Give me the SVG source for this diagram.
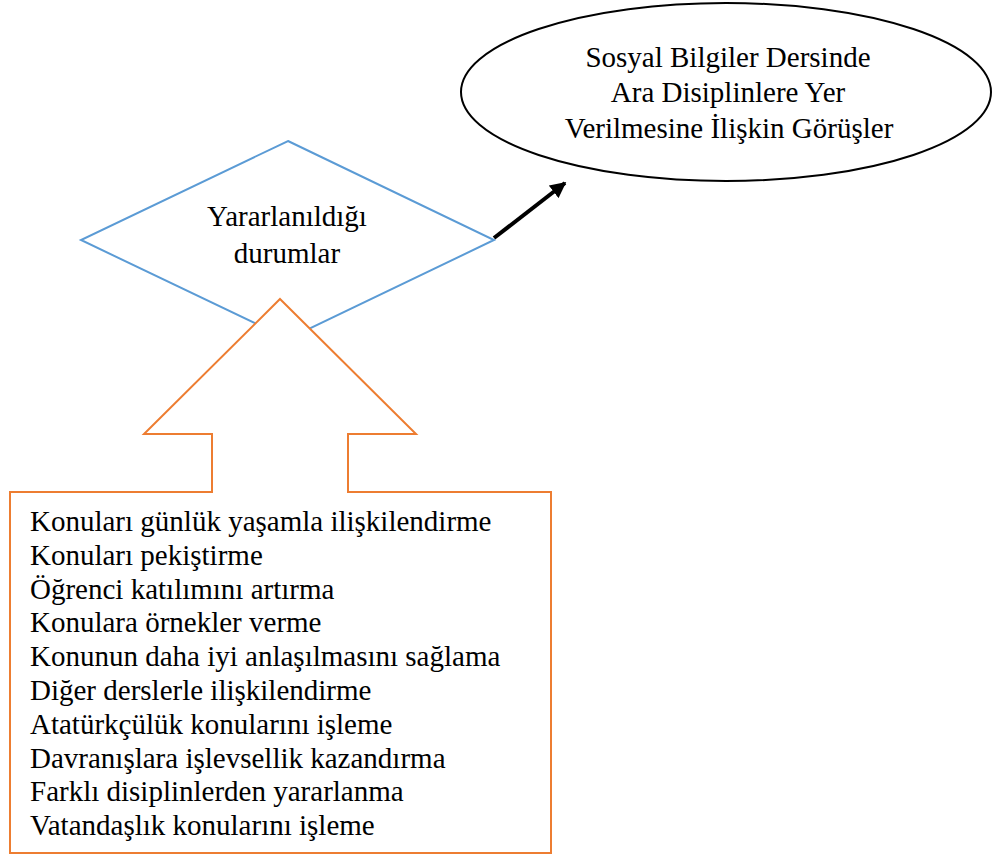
<svg xmlns="http://www.w3.org/2000/svg" width="992" height="856" viewBox="0 0 992 856">
<style>
text{font-family:"Liberation Serif","Times New Roman",serif;font-size:29px;fill:#000}
.c{text-anchor:middle}
.blue{fill:#fff;stroke:#5B9BD5;stroke-width:2}
.orange{fill:#fff;stroke:#ED7D31;stroke-width:2}
.ell{fill:#fff;stroke:#000;stroke-width:2}
.conn{stroke:#000;stroke-width:4;fill:none}
</style>
<defs>
<marker id="ah" viewBox="0 0 10 10" refX="9" refY="5" markerWidth="4" markerHeight="4" orient="auto" markerUnits="strokeWidth">
<path d="M0,0 L10,5 L0,10 Z" fill="#000"/>
</marker>
</defs>
<rect width="992" height="856" fill="#fff"/>
<g id="ellipse">
<ellipse class="ell" cx="726" cy="92" rx="265" ry="89"/>
<text class="c" x="728" y="67">Sosyal Bilgiler Dersinde</text>
<text class="c" x="728" y="102">Ara Disiplinlere Yer</text>
<text class="c" x="729" y="138">Verilmesine İlişkin Görüşler</text>
</g>
<g id="connectors">
<line class="conn" x1="494" y1="238" x2="565" y2="183" marker-end="url(#ah)"/>
</g>
<g id="diamond">
<polygon class="blue" points="288,141 494,240 288,339 81,240"/>
<text class="c" x="287" y="226">Yararlanıldığı</text>
<text class="c" x="287" y="263">durumlar</text>
</g>
<g id="list">
<path class="orange" d="M280,299 L416,434 L348,434 L348,492 L551,492 L551,853 L10,853 L10,492 L212,492 L212,434 L144,434 Z"/>
<text x="30" y="531">Konuları günlük yaşamla ilişkilendirme</text>
<text x="30" y="565">Konuları pekiştirme</text>
<text x="30" y="599">Öğrenci katılımını artırma</text>
<text x="30" y="632">Konulara örnekler verme</text>
<text x="30" y="666">Konunun daha iyi anlaşılmasını sağlama</text>
<text x="30" y="700">Diğer derslerle ilişkilendirme</text>
<text x="30" y="734">Atatürkçülük konularını işleme</text>
<text x="30" y="768">Davranışlara işlevsellik kazandırma</text>
<text x="30" y="801">Farklı disiplinlerden yararlanma</text>
<text x="30" y="835">Vatandaşlık konularını işleme</text>
</g>
</svg>
